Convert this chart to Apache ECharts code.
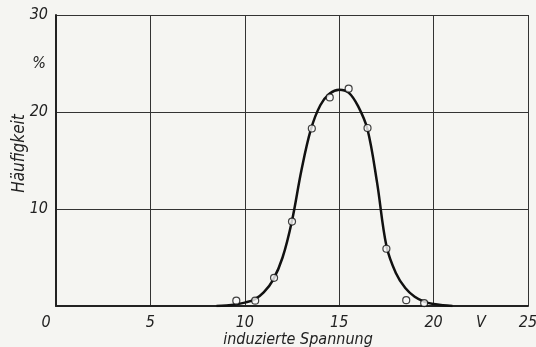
<!DOCTYPE html>
<html lang="de">
<head>
<meta charset="UTF-8">
<title>Häufigkeit – induzierte Spannung</title>
<script src="https://cdn.jsdelivr.net/npm/echarts@6/dist/echarts.min.js"></script>
<style>
  html, body { margin: 0; padding: 0; background: #f5f5f2; }
  #chart { width: 536px; height: 347px; }
</style>
</head>
<body>
<div id="chart"></div>
<script>
// Messpunkte (induzierte Spannung in V, Häufigkeit in %)
var pointX = [9.55, 10.55, 11.55, 12.5, 13.55, 14.5, 15.5, 16.5, 17.5, 18.55, 19.5];
var pointY = [0.55, 0.55, 2.9, 8.7, 18.3, 21.5, 22.4, 18.35, 5.9, 0.6, 0.3];

// ausgeglichene Kurve
var curveX = [8.5, 9, 9.5, 10, 10.5, 11, 11.5, 12, 12.5, 13, 13.5, 14, 14.5, 15, 15.5, 16, 16.5, 17, 17.5, 18, 18.5, 19, 19.5, 20, 20.5, 21];
var curveY = [0, 0.05, 0.15, 0.35, 0.65, 1.4, 2.7, 5.0, 8.8, 14.0, 18.2, 20.7, 21.9, 22.3, 22.0, 20.6, 18.2, 12.8, 6.2, 3.4, 1.85, 0.95, 0.45, 0.2, 0.07, 0];

var fontFam = "'Liberation Sans Narrow', 'DejaVu Sans Condensed', 'DejaVu Sans', sans-serif";
var ink = '#222';

var chart = echarts.init(document.getElementById('chart'));

var option = {
    backgroundColor: '#f5f5f2',
    animation: false,
    grid: { left: 56, right: 8, top: 15, bottom: 41, outerBoundsMode: 'none', containLabel: false },
    xAxis: [
        {
            type: 'value', min: 0, max: 25, interval: 5,
            name: 'induzierte Spannung',
            nameLocation: 'middle', nameGap: 26, nameMoveOverlap: false,
            nameTextStyle: { fontFamily: fontFam, fontStyle: 'italic', fontSize: 16, color: ink, padding: [0, 0, 0, 12] },
            axisLine: { show: true, lineStyle: { color: ink, width: 2 } },
            axisTick: { show: false },
            splitLine: { show: true, lineStyle: { color: '#333', width: 1 } },
            axisLabel: {
                fontFamily: fontFam, fontStyle: 'italic', fontSize: 16, color: ink, margin: 9,
                formatter: function (v) { return v === 0 ? '{o|0}' : String(v); },
                rich: { o: { fontFamily: fontFam, fontStyle: 'italic', fontSize: 16, color: ink, padding: [0, 20, 0, 0] } }
            }
        },
        {
            // Einheit "V" zwischen 20 und 25
            type: 'value', min: 0, max: 25, interval: 2.5, position: 'bottom',
            axisLine: { show: false }, axisTick: { show: false }, splitLine: { show: false },
            axisLabel: {
                fontFamily: fontFam, fontStyle: 'italic', fontSize: 16, color: ink, margin: 9,
                formatter: function (v) { return v === 22.5 ? 'V' : ''; }
            }
        }
    ],
    yAxis: [
        {
            type: 'value', min: 0, max: 30, interval: 10,
            name: 'Häufigkeit',
            nameLocation: 'middle', nameGap: 28, nameRotate: 90, nameMoveOverlap: false,
            nameTextStyle: { fontFamily: fontFam, fontStyle: 'italic', fontSize: 17, color: ink, padding: [0, 0, 0, 14] },
            axisLine: { show: true, lineStyle: { color: ink, width: 2 } },
            axisTick: { show: false },
            splitLine: { show: true, lineStyle: { color: '#333', width: 1 } },
            axisLabel: {
                fontFamily: fontFam, fontStyle: 'italic', fontSize: 16, color: ink, margin: 8,
                formatter: function (v) { return v === 0 ? '' : String(v); }
            }
        },
        {
            // Einheit "%" zwischen 20 und 30
            type: 'value', min: 0, max: 30, interval: 5, position: 'left',
            axisLine: { show: false }, axisTick: { show: false }, splitLine: { show: false },
            axisLabel: {
                fontFamily: fontFam, fontStyle: 'italic', fontSize: 16, color: ink, margin: 10,
                formatter: function (v) { return v === 25 ? '%' : ''; }
            }
        }
    ],
    series: [
        {
            type: 'line',
            data: curveX.map(function (x, i) { return [x, curveY[i]]; }),
            smooth: 0.35,
            showSymbol: false,
            lineStyle: { color: '#111', width: 2.5 },
            z: 3
        },
        {
            type: 'scatter',
            data: pointX.map(function (x, i) { return [x, pointY[i]]; }),
            symbol: 'circle',
            symbolSize: 7,
            itemStyle: { color: '#fafafa', borderColor: '#111', borderWidth: 1.2 },
            z: 4
        }
    ]
};
chart.setOption(option);
</script>
</body>
</html>
